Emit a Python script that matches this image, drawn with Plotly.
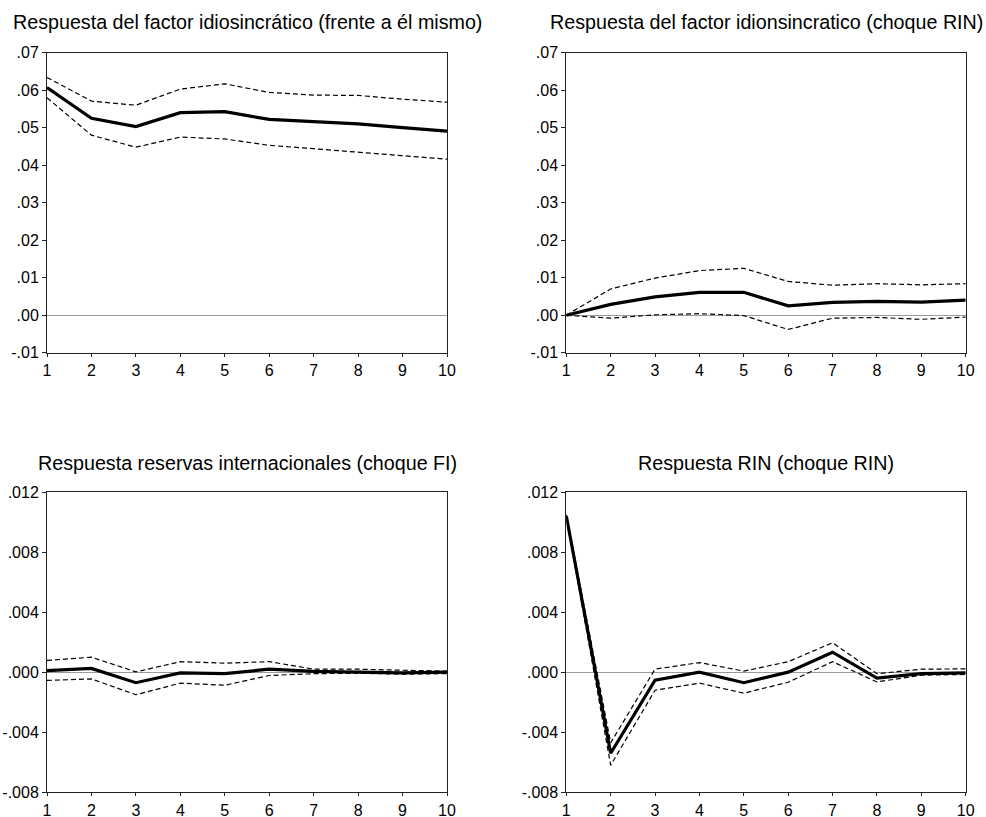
import plotly.graph_objects as go

periods = [1, 2, 3, 4, 5, 6, 7, 8, 9, 10]

# Panel 1: Respuesta del factor idiosincrático (frente a él mismo)
p1_resp = [0.0607, 0.0525, 0.0503, 0.0540, 0.0543, 0.0522, 0.0516, 0.0510, 0.0500, 0.0491]
p1_upper = [0.0634, 0.0571, 0.0560, 0.0603, 0.0617, 0.0594, 0.0587, 0.0586, 0.0576, 0.0568]
p1_lower = [0.0580, 0.0480, 0.0448, 0.0475, 0.0470, 0.0453, 0.0444, 0.0434, 0.0425, 0.0416]

# Panel 2: Respuesta del factor idionsincratico (choque RIN)
p2_resp = [0.0, 0.0029, 0.0049, 0.0061, 0.0061, 0.0025, 0.0034, 0.0037, 0.0035, 0.0040]
p2_upper = [0.0, 0.0070, 0.0099, 0.0119, 0.0125, 0.0090, 0.0080, 0.0084, 0.0081, 0.0084]
p2_lower = [0.0, -0.0008, 0.0001, 0.0004, -0.0001, -0.0038, -0.0008, -0.0006, -0.0011, -0.0005]

# Panel 3: Respuesta reservas internacionales (choque FI)
p3_resp = [0.0001, 0.00025, -0.0007, -0.00005, -0.0001, 0.0002, 0.00005, 0.0, -0.00005, 0.0]
p3_upper = [0.00078, 0.0010, 0.00002, 0.0007, 0.0006, 0.0007, 0.0002, 0.0002, 0.00013, 0.00007]
p3_lower = [-0.00055, -0.00045, -0.0015, -0.00073, -0.00087, -0.00022, -0.0001, -0.00007, -0.00013, -0.0001]

# Panel 4: Respuesta RIN (choque RIN)
p4_resp = [0.0104, -0.0054, -0.00053, 0.0, -0.0007, 0.0, 0.00133, -0.0004, -0.0001, -0.00005]
p4_upper = [0.0105, -0.0047, 0.0002, 0.00064, 0.00007, 0.0007, 0.00196, -0.0001, 0.0002, 0.00022]
p4_lower = [0.0103, -0.0062, -0.0012, -0.00073, -0.0014, -0.00067, 0.0007, -0.00065, -0.0002, -0.00015]

titles = [
    "Respuesta del factor idiosincrático (frente a él mismo)",
    "Respuesta del factor idionsincratico (choque RIN)",
    "Respuesta reservas internacionales (choque FI)",
    "Respuesta RIN (choque RIN)",
]

top_tickvals = [-0.01, 0.0, 0.01, 0.02, 0.03, 0.04, 0.05, 0.06, 0.07]
top_ticktext = ["-.01", ".00", ".01", ".02", ".03", ".04", ".05", ".06", ".07"]
bot_tickvals = [-0.008, -0.004, 0.0, 0.004, 0.008, 0.012]
bot_ticktext = ["-.008", "-.004", ".000", ".004", ".008", ".012"]
x_ticktext = ["1", "2", "3", "4", "5", "6", "7", "8", "9", "10"]

W, H = 986, 817
panels = [
    dict(data=(p1_resp, p1_upper, p1_lower), x=(47, 447), y=(52.7, 352.7),
         yr=(-0.01, 0.07), tv=top_tickvals, tt=top_ticktext),
    dict(data=(p2_resp, p2_upper, p2_lower), x=(566.3, 965.7), y=(52.7, 352.7),
         yr=(-0.01, 0.07), tv=top_tickvals, tt=top_ticktext),
    dict(data=(p3_resp, p3_upper, p3_lower), x=(47, 447), y=(492, 792.3),
         yr=(-0.008, 0.012), tv=bot_tickvals, tt=bot_ticktext),
    dict(data=(p4_resp, p4_upper, p4_lower), x=(566.3, 965.7), y=(492, 792.3),
         yr=(-0.008, 0.012), tv=bot_tickvals, tt=bot_ticktext),
]
title_y = [22, 22, 463, 463]

fig = go.Figure()
font_family = "Liberation Sans, Arial, sans-serif"

for i, p in enumerate(panels):
    n = i + 1
    xa = "x" if n == 1 else f"x{n}"
    ya = "y" if n == 1 else f"y{n}"
    resp, up, lo = p["data"]
    for vals in (up, lo):
        fig.add_trace(go.Scatter(x=periods, y=vals, mode="lines", xaxis=xa, yaxis=ya,
                                 line=dict(color="black", width=1.2, dash="5px,3px"),
                                 showlegend=False, hoverinfo="skip"))
    fig.add_trace(go.Scatter(x=periods, y=resp, mode="lines", xaxis=xa, yaxis=ya,
                             line=dict(color="black", width=3.2), showlegend=False))
    xd = [p["x"][0] / W, p["x"][1] / W]
    yd = [1 - p["y"][1] / H, 1 - p["y"][0] / H]
    axkey = "xaxis" if n == 1 else f"xaxis{n}"
    aykey = "yaxis" if n == 1 else f"yaxis{n}"
    fig.update_layout(**{
        axkey: dict(domain=xd, anchor=ya, range=[1, 10], tickvals=periods, ticktext=x_ticktext,
                    showgrid=False, zeroline=False, showline=True, linecolor="#222",
                    linewidth=1, mirror=True, ticks="outside", ticklen=3, tickcolor="#222",
                    automargin=False,
                    tickfont=dict(size=16, color="black", family=font_family)),
        aykey: dict(domain=yd, anchor=xa, range=list(p["yr"]), tickvals=p["tv"], ticktext=p["tt"],
                    showgrid=False, zeroline=True, zerolinecolor="#9a9a9a", zerolinewidth=1,
                    showline=True, linecolor="#222", linewidth=1, mirror=True,
                    ticks="outside", ticklen=4, tickcolor="#222", automargin=False,
                    tickfont=dict(size=16, color="black", family=font_family)),
    })
    fig.add_annotation(text=titles[i], xref="paper", yref="paper",
                       x=(xd[0] + xd[1]) / 2, y=1 - title_y[i] / H,
                       xanchor="center", yanchor="middle", showarrow=False,
                       font=dict(size=19.7, color="black", family=font_family))

fig.update_layout(width=W, height=H, margin=dict(l=0, r=0, t=0, b=0, autoexpand=False),
                  paper_bgcolor="white", plot_bgcolor="white")

fig.write_html("out.html", config={"displayModeBar": False},
               post_script="document.body.style.margin='0';document.body.style.overflow='hidden';")
